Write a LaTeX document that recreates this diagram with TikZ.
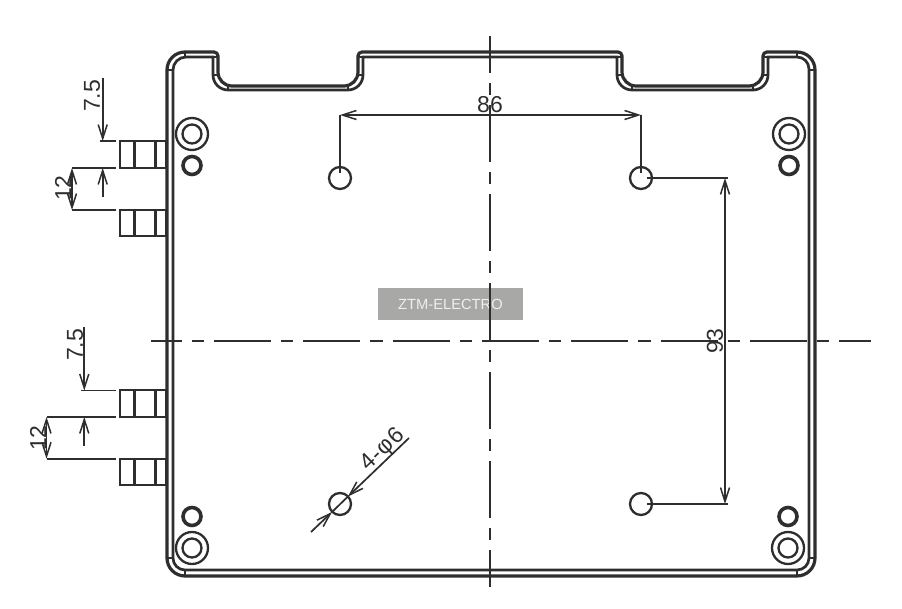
\documentclass[tikz,border=0pt]{standalone}
\usepackage{fontspec}
\setmainfont{Liberation Sans}
\usetikzlibrary{arrows.meta}
\definecolor{inkline}{HTML}{2E2E2E}
\definecolor{badgegray}{HTML}{A8A8A6}
\definecolor{badgetext}{HTML}{EFEFEF}
\tikzset{
	plate/.style={draw=inkline,line width=3.2pt},
	thin part/.style={draw=inkline,line width=2.3pt},
	center axis/.style={draw=inkline,line width=1.9pt},
	dim line/.style={draw=inkline,line width=1.7pt},
	barb/.tip={Straight Barb[length=14pt,width=9pt,line width=1.5pt]},
	dim tip/.style={dim line,-barb},
	dim both/.style={dim line,barb-barb},
	dim text/.style={text=inkline,inner sep=0pt,font=\fontsize{23}{23}\selectfont},
}
\begin{document}
\begin{tikzpicture}[x=1pt,y=-1pt]
	\useasboundingbox[fill=white] (0,0) rectangle (902,609);
	% side connectors
	\foreach \t/\b in {141/168,210/236,390/417,459/485}{
		\draw[thin part] (120,\t) rectangle (166,\b);
		\draw[thin part] (134.5,\t) -- (134.5,\b) (155.5,\t) -- (155.5,\b);
	}
	% plate, two outlines of the bent edge
	\draw[plate] (167,558) -- (167,70) arc[start angle=-180,end angle=-90,radius=18]
		-- (214,52) arc[start angle=-90,end angle=0,radius=4]
		-- (218,72) arc[start angle=180,end angle=90,radius=14]
		-- (344,86) arc[start angle=90,end angle=0,radius=14]
		-- (358,56) arc[start angle=-180,end angle=-90,radius=4]
		-- (618,52) arc[start angle=-90,end angle=0,radius=4]
		-- (622,72) arc[start angle=180,end angle=90,radius=14]
		-- (749,86) arc[start angle=90,end angle=0,radius=14]
		-- (763,56) arc[start angle=-180,end angle=-90,radius=4]
		-- (797,52) arc[start angle=-90,end angle=0,radius=18]
		-- (815,558) arc[start angle=0,end angle=90,radius=18]
		-- (185,576) arc[start angle=90,end angle=180,radius=18] -- cycle;
	\draw[plate,line width=2.7pt] (173,558) -- (173,70) arc[start angle=-180,end angle=-90,radius=13]
		-- (213,57) -- (213,75) arc[start angle=180,end angle=90,radius=15]
		-- (348,90) arc[start angle=90,end angle=0,radius=15]
		-- (363,57) -- (617,57) -- (617,75) arc[start angle=180,end angle=90,radius=15]
		-- (753,90) arc[start angle=90,end angle=0,radius=15]
		-- (768,57) -- (797,57) arc[start angle=-90,end angle=0,radius=12]
		-- (809,558) arc[start angle=0,end angle=90,radius=12]
		-- (185,570) arc[start angle=90,end angle=180,radius=12] -- cycle;
	% bend marks
	\foreach \x in {213,358,617,763}{
		\draw[thin part] (\x,57) -- ++(5,0) (\x,75) -- ++(5,0);
	}
	\foreach \x in {228,348,632,753}{
		\draw[thin part] (\x,86) -- (\x,90);
	}
	\foreach \x in {185,797}{
		\draw[thin part] (\x,52) -- (\x,57) (\x,570) -- (\x,576);
	}
	\foreach \x in {167,809}{
		\draw[thin part] (\x,70) -- ++(6,0) (\x,558) -- ++(6,0);
	}
	% corner studs
	\foreach \x/\ybig/\ysmall in {192/134/165.5,789/134/165.5,192/548/516.5,788/548/516.5}{
		\draw[thin part] (\x,\ybig) circle[radius=16] (\x,\ybig) circle[radius=9.5];
		\draw[draw=inkline,line width=3.6pt] (\x,\ysmall) circle[radius=9];
	}
	% mounting holes
	\coordinate (holeTL) at (340,178);
	\coordinate (holeTR) at (641,178);
	\coordinate (holeBL) at (340,504);
	\coordinate (holeBR) at (641,504);
	\foreach \h in {holeTL,holeTR,holeBL,holeBR}{
		\draw[thin part] (\h) circle[radius=11];
	}
	% badge
	\node[fill=badgegray,text=badgetext,minimum width=145pt,minimum height=32pt,inner sep=0pt,font=\fontsize{14.7}{14.7}\selectfont] (badge) at (450.5,304) {ZTM-ELECTRO};
	% axes
	\coordinate (axisN) at (490,36);
	\coordinate (axisS) at (490,587);
	\coordinate (axisW) at (151,341);
	\coordinate (axisE) at (871,341);
	\draw[center axis,dash pattern=on 57pt off 10pt on 12pt off 10pt,dash phase=20pt] (axisN) -- (axisS);
	\draw[center axis,dash pattern=on 57pt off 10pt on 12.3pt off 10pt,dash phase=26.2pt] (axisW) -- (axisE);
	% dimension 86
	\coordinate (d86a) at (340,115);
	\coordinate (d86b) at (641,115);
	\draw[dim line] (d86a) -- (340,173);
	\draw[dim line] (d86b) -- (641,173);
	\draw[dim both] (d86a) -- (d86b);
	\node[dim text] (label86) at (490,105) {86};
	% dimension 93
	\coordinate (d93a) at (725,178);
	\coordinate (d93b) at (725,504);
	\draw[dim line] (647,178) -- (728,178);
	\draw[dim line] (647,504) -- (728,504);
	\draw[dim both] (d93a) -- (d93b);
	\node[dim text,rotate=90] (label93) at (715,341) {93};
	% connector pitch, upper and lower pair
	\foreach \xa/\xb/\ya/\yb/\yc/\ytop/\yend/\xt/\yt/\xu/\yu/\n in {102.7/72/141/168/210/78/197/92/96/63/188/upper,84.3/46.5/390.5/417/458.7/327/446/75/345/38/438/lower}{
		\draw[dim line] (\xa-3,\ya) -- (116,\ya);
		\draw[dim line] (\xb,\yb) -- (116,\yb);
		\draw[dim line] (\xb,\yc) -- (116,\yc);
		\draw[dim tip] (\xa,\ytop) -- (\xa,\ya);
		\draw[dim tip] (\xa,\yend) -- (\xa,\yb);
		\draw[dim both] (\xb,\yb) -- (\xb,\yc);
		\node[dim text,rotate=90] (label75\n) at (\xt,\yt) {7.5};
		\node[dim text,rotate=90] (label12\n) at (\xu,\yu) {12};
	}
	% hole callout
	\coordinate (leadA) at (409,438);
	\coordinate (leadB) at (311,532);
	\draw[dim tip] (leadA) -- (348,496.5);
	\draw[dim tip] (leadB) -- (332,512);
	\draw[dim line] (348,496.5) -- (332,512);
	\node[dim text,rotate=44] (labelhole) at (383,450) {\addfontfeature{LetterSpace=4}4-φ6};
\end{tikzpicture}
\end{document}
